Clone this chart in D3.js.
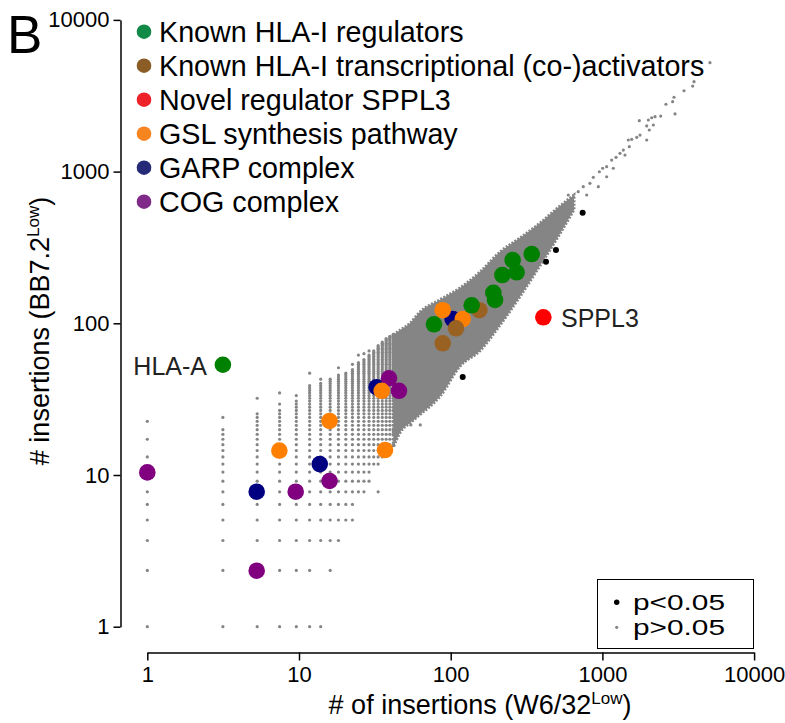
<!DOCTYPE html>
<html><head><meta charset="utf-8">
<script src="https://cdn.jsdelivr.net/npm/d3@7"></script>
<style>
html,body{margin:0;padding:0;background:#fff;}
svg{display:block;font-family:Arial,"Liberation Sans",sans-serif;}
</style></head>
<body><svg id="c" width="785" height="723"></svg>
<script>
// ---------------- DATA ----------------
// low-count grid: normalised value = 1 + step * count
const gridStepX = 2.15, gridStepY = 1.35;
// [column count, [[rowFrom,rowTo],...]]
const gridCols = [
  [0,  [[0,5],[9,9],[12,12],[16,16]]],
  [1,  [[0,14],[17,17]]],
  [2,  [[0,18],[23,23]]],
  [3,  [[0,19],[21,21],[25,25]]],
  [4,  [[0,22],[24,24]]],
  [5,  [[0,28],[34,34]]],
  [6,  [[0,0],[2,29],[31,31]]],
  [7,  [[1,31]]],
  [8,  [[2,33],[37,37]]],
  [9,  [[3,34]]],
  [10, [[3,36],[39,39]]],
  [11, [[5,40],[45,45]]],
  [12, [[5,42],[46,46]]],
  [13, [[6,45],[48,48]]],
  [14, [[8,48]]],
  [15, [[5,5],[8,52]]],
  [16, [[9,55]]],
  [17, [[10,58]]],
  [18, [[10,60]]],
  [19, [[11,62]]]
];
// dense band envelope (x, low y, high y)
const bandX  = [41.85, 46.3, 53.9, 62.8, 85,  115, 156,  211, 286, 388, 525, 650];
const bandHi = [84,    90,   100,  119,  143, 171, 218,  295, 365, 458, 593, 700];
const bandLo = [15.2,  19,   22,   25,   33,  52,  66,   97,  150, 240, 390, 560];
// sparse high-count genes (p>0.05)
const tailX = [5117,4018,3937,3451,2965,2904,2624,3011,2423,2223,2113,2009,1751,1960,2038,2166,1770,1684,1560,1482,1960,1504,1374,1306,1230,1409,1151,1067,1004,1180,955,1067,871,828,940,748,693,788,596];
const tailY = [5224,3917,3664,3412,3090,2890,2779,2399,2324,2301,2265,2188,2167,2000,1880,2028,1742,1683,1633,1615,1615,1459,1387,1320,1242,1286,1192,1077,1052,1052,998,925,917,837,795,795,737,701,701];
// isolated grey outliers
const outX = [54.6, 63, 118, 200, 260, 225, 300];
const outY = [21.4, 21.4, 60, 180, 200, 270, 300];
// significant genes (p<0.05)
const sigX = [741, 494, 425, 120];
const sigY = [536, 304, 255, 44.3];
// highlighted genes
const categories = ["Known HLA-I regulators","Known HLA-I transcriptional (co-)activators","Novel regulator SPPL3","GSL synthesis pathway","GARP complex","COG complex"];
const catColors  = ["#008000","#9a6222","#ff0000","#ff8000","#000080","#800080"];
const legendColors = ["#118a47","#8c5c27","#ee2229","#f6851f","#262b78","#7f2a88"];
const greenX = [3.15,77.6,137.5,191,196,219,272,256,342];
const greenY = [53.3,98.5,131.5,159,142.5,208,217,261,286];
const brownX = [154.5,108.4,88.6];
const brownY = [122,92.7,73.8];
const redX = [408];
const redY = [109.5];
const orangeX = [88.6,120,35.1,15.9,7.42,36.9];
const orangeY = [122,106.7,35.9,22.7,14.5,14.6];
const navyX = [103,32.5,5.26,13.7];
const navyY = [106.7,37.9,7.76,11.8];
const purpleX = [39.2,45.6,1,5.26,9.51,15.9];
const purpleY = [43.4,35.9,10.4,2.34,7.76,9.13];
const majorTicks = [1,10,100,1000,10000];
const tickLabels = ["1","10","100","1000","10000"];
const pLegend = ["p<0.05","p>0.05"];

// ---------------- DRAW ----------------
const svg = d3.select("#c");
const x = d3.scaleLog().domain([1,10000]).range([147.3,754.1]);
const y = d3.scaleLog().domain([1,10000]).range([626.7,19.9]);
const minorTicks = [];
[1,10,100,1000].forEach(d=>{for(let k=2;k<=9;k++) minorTicks.push(d*k);});

// grid points
const gridPts = [];
gridCols.forEach(([i,runs])=>runs.forEach(([a,b])=>{for(let j=a;j<=b;j++) gridPts.push([1+gridStepX*i,1+gridStepY*j]);}));
const grey = "#858585";
svg.append("g").selectAll("circle").data(gridPts).join("circle")
  .attr("cx",d=>x(d[0])).attr("cy",d=>y(d[1])).attr("r",1.6).attr("fill",grey);

const band = bandX.map((v,k)=>({x:v,lo:bandLo[k],hi:bandHi[k]}));
svg.append("path").datum(band)
  .attr("d",d3.area().x(d=>x(d.x)).y0(d=>y(d.lo)).y1(d=>y(d.hi)).curve(d3.curveMonotoneX))
  .attr("fill",grey).attr("stroke",grey).attr("stroke-width",3).attr("stroke-dasharray","2 1.5");

svg.append("g").selectAll("circle").data(tailX.map((v,k)=>[v,tailY[k]]).concat(outX.map((v,k)=>[v,outY[k]]))).join("circle")
  .attr("cx",d=>x(d[0])).attr("cy",d=>y(d[1])).attr("r",1.6).attr("fill",grey);

svg.append("g").selectAll("circle").data(sigX.map((v,k)=>[v,sigY[k]])).join("circle")
  .attr("cx",d=>x(d[0])).attr("cy",d=>y(d[1])).attr("r",3).attr("fill","#000");

// highlighted (draw order)
const groups = [
  [navyX,navyY,catColors[4]],
  [purpleX,purpleY,catColors[5]],
  [orangeX,orangeY,catColors[3]],
  [brownX,brownY,catColors[1]],
  [greenX,greenY,catColors[0]],
  [redX,redY,catColors[2]]
];
groups.forEach(([xs,ys,c])=>{
  svg.append("g").selectAll("circle").data(xs.map((v,k)=>[v,ys[k]])).join("circle")
    .attr("cx",d=>x(d[0])).attr("cy",d=>y(d[1])).attr("r",8.3).attr("fill",c);
});

// axes
const yAxisG = svg.append("g").attr("transform","translate(120.5,0)");
yAxisG.call(d3.axisLeft(y).tickValues(minorTicks).tickSize(4).tickFormat(""));
yAxisG.call(d3.axisLeft(y).tickValues(majorTicks).tickSize(7).tickSizeOuter(0).tickPadding(4).tickFormat((d,i)=>tickLabels[i]));
const xAxisG = svg.append("g").attr("transform","translate(0,652.5)");
xAxisG.call(d3.axisBottom(x).tickValues(minorTicks).tickSize(4).tickFormat(""));
xAxisG.call(d3.axisBottom(x).tickValues(majorTicks).tickSize(8).tickSizeOuter(0).tickPadding(6).tickFormat((d,i)=>tickLabels[i]));
svg.selectAll(".domain,.tick line").attr("stroke","#000").attr("stroke-width",1.5);
svg.selectAll(".tick text").attr("font-size",22).attr("fill","#000").attr("font-family","Arial,'Liberation Sans',sans-serif");

// axis titles
const xt = svg.append("text").attr("x",480).attr("y",714).attr("text-anchor","middle").attr("font-size",27);
xt.append("tspan").text("# of insertions (W6/32");
xt.append("tspan").attr("font-size",17).attr("dy",-10).text("Low");
xt.append("tspan").attr("dy",10).text(")");
const yt = svg.append("text").attr("transform","translate(49,331) rotate(-90)").attr("text-anchor","middle").attr("font-size",27);
yt.append("tspan").text("# insertions (BB7.2");
yt.append("tspan").attr("font-size",17).attr("dy",-10).text("Low");
yt.append("tspan").attr("dy",10).text(")");

// panel letter
svg.append("text").attr("x",7).attr("y",53).attr("font-size",53).text("B");

// category legend
const lg = svg.append("g");
categories.forEach((c,k)=>{
  const cy = 31.7 + k*34;
  lg.append("circle").attr("cx",144).attr("cy",cy).attr("r",7.3).attr("fill",legendColors[k]);
  lg.append("text").attr("x",159).attr("y",cy).attr("dy","0.36em").attr("font-size",28.7).text(c);
});

// point labels
svg.append("text").attr("x",207).attr("y",366).attr("dy","0.36em").attr("text-anchor","end").attr("font-size",25).attr("fill","#222").text("HLA-A");
svg.append("text").attr("x",561).attr("y",318).attr("dy","0.36em").attr("font-size",25).attr("fill","#222").text("SPPL3");

// p-value legend
svg.append("rect").attr("x",597.5).attr("y",579.5).attr("width",156).attr("height",69).attr("fill","#fff").attr("stroke","#000").attr("stroke-width",1);
svg.append("circle").attr("cx",616.7).attr("cy",602.3).attr("r",2.7).attr("fill","#000");
svg.append("circle").attr("cx",616.7).attr("cy",627.3).attr("r",1.6).attr("fill",grey);
pLegend.forEach((t,k)=>svg.append("text").attr("font-size",22).attr("x",633).attr("y",602+k*25.5).attr("dy","0.36em").attr("textLength",92).attr("lengthAdjust","spacingAndGlyphs").text(t));
</script></body></html>
